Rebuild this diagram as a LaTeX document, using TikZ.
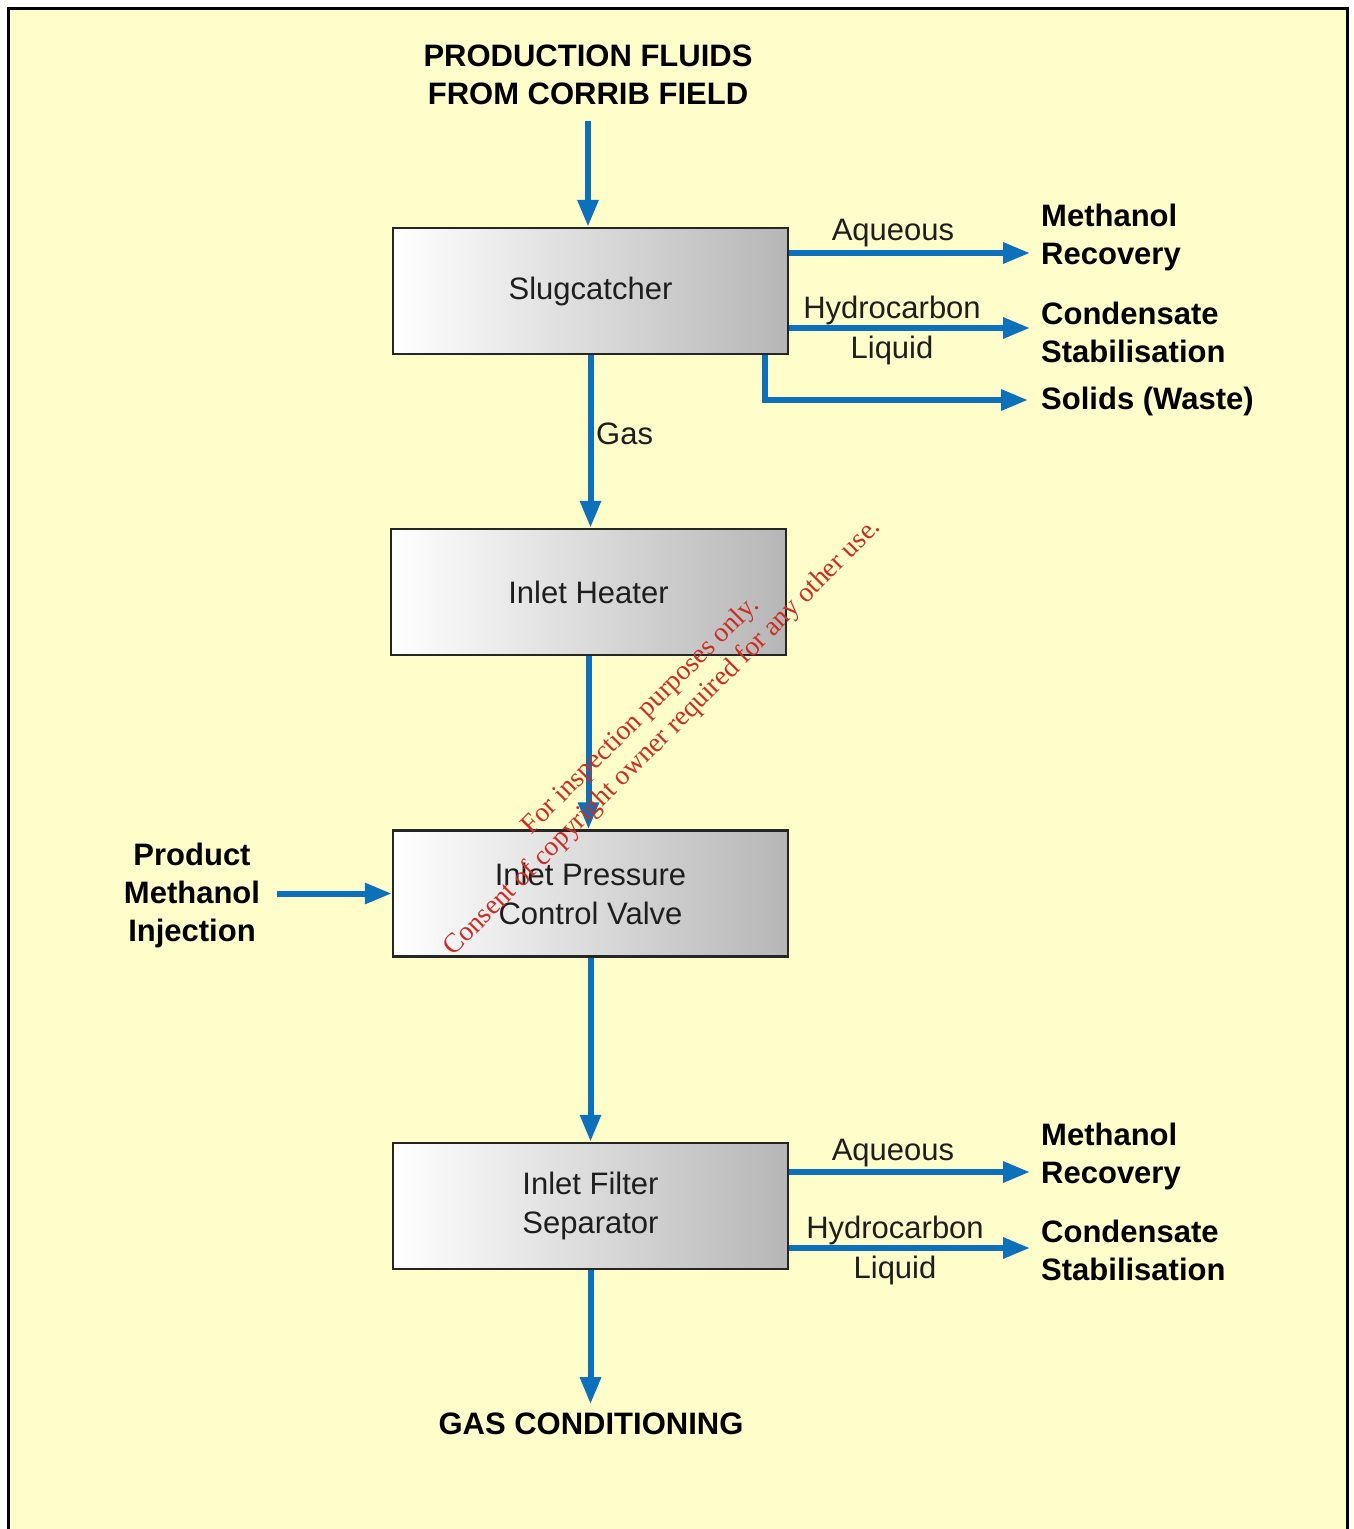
\documentclass[tikz,border=0pt]{standalone}
\usepackage{fontspec}
\setmainfont{Liberation Sans}
\newfontfamily\wmserif{Liberation Serif}
\usetikzlibrary{arrows.meta,calc}
\definecolor{bgyellow}{RGB}{255,253,201}
\definecolor{flowblue}{RGB}{12,112,186}
\definecolor{wmred}{RGB}{204,45,35}
\definecolor{boxgray}{RGB}{182,182,182}
\definecolor{inkgray}{RGB}{30,30,30}
\begin{document}
\begin{tikzpicture}[x=1pt,y=-1pt,
  flow/.style={draw=flowblue, line width=6pt, -{Triangle[length=27pt,width=20pt]}},
  unit/.style={draw=black!85, line width=2.5pt, left color=white, right color=boxgray,
    minimum width=395pt, minimum height=126pt, align=center, text=inkgray,
    font=\fontsize{31}{39}\selectfont, inner sep=0pt},
  lbl/.style={inner sep=0pt, text=inkgray, font=\fontsize{31}{38}\selectfont},
  blbl/.style={inner sep=0pt, font=\fontsize{31}{38}\selectfont\bfseries},
  wmark/.style={rotate=45, text=wmred, font=\wmserif\fontsize{27.5}{31}\selectfont,
    align=center, inner sep=0pt}
]
\useasboundingbox (0,0) rectangle (1353,1529);
\fill[white] (0,0) rectangle (1353,1529);
\fill[bgyellow] (8.5,8.5) rectangle (1347.5,1529);
\draw[line width=3pt] (8.5,1529) -- (8.5,8.5) -- (1347.5,8.5) -- (1347.5,1529);

% process units
\node[unit] (slug) at (590.5,291) {Slugcatcher};
\node[unit] (heat) at (588.5,592) {Inlet Heater};
\node[unit] (valve) at (590.5,893.5) {Inlet Pressure\\Control Valve};
\node[unit] (filt) at (590.5,1206) {Inlet Filter\\Separator};

% texts (multi-line nodes: base = baseline of last line)
\node[blbl, align=center, anchor=base] (src) at (588,104) {PRODUCTION FLUIDS\\FROM CORRIB FIELD};
\node[lbl, anchor=base] (aq1) at (893,240) {Aqueous};
\node[lbl, align=center, anchor=base] (hc1) at (892,358) {Hydrocarbon\\[2pt]Liquid};
\node[blbl, align=left, anchor=base west] (mr1) at (1041,264) {Methanol\\Recovery};
\node[blbl, align=left, anchor=base west] (cs1) at (1041,362) {Condensate\\Stabilisation};
\node[blbl, anchor=base west] (sw) at (1041,409) {Solids (Waste)};
\node[lbl, anchor=base west] (gas) at (596,444) {Gas};
\node[blbl, align=center, anchor=base] (pmi) at (192,941) {Product\\Methanol\\Injection};
\node[lbl, anchor=base] (aq2) at (893,1160) {Aqueous};
\node[lbl, align=center, anchor=base] (hc2) at (895,1278) {Hydrocarbon\\[2pt]Liquid};
\node[blbl, align=left, anchor=base west] (mr2) at (1041,1183) {Methanol\\Recovery};
\node[blbl, align=left, anchor=base west] (cs2) at (1041,1280) {Condensate\\Stabilisation};
\node[blbl, anchor=base] (gc) at (591,1434) {GAS CONDITIONING};

% arrow end points
\coordinate (aq1tip) at (1030,253);
\coordinate (hc1tip) at (1030,328);
\coordinate (swtip) at (1028,400);
\coordinate (aq2tip) at (1030,1172);
\coordinate (hc2tip) at (1030,1248);
\coordinate (gctip) at ($(gc.north)+(0,-8)$);
\coordinate (pmiout) at ([xshift=17pt]pmi.east);

% connectors
\draw[flow] ([yshift=-16pt]src.south) -- (src.south |- slug.north);
\draw[flow] (slug.east |- aq1tip) -- (aq1tip);
\draw[flow] (slug.east |- hc1tip) -- (hc1tip);
\draw[flow] ($(slug.south east)+(-24,0)$) |- (swtip);
\draw[flow] (slug.south) -- (heat.north -| slug.south);
\draw[flow] (heat.south) -- (valve.north -| heat.south);
\draw[flow] (pmiout |- valve.west) -- (valve.west);
\draw[flow] (valve.south) -- (filt.north);
\draw[flow] (filt.east |- aq2tip) -- (aq2tip);
\draw[flow] (filt.east |- hc2tip) -- (hc2tip);
\draw[flow] (filt.south) -- (filt.south |- gctip);

% watermark
\node[wmark] (wm) at (652,727) {For inspection purposes only.\\Consent of copyright owner required for any other use.};
\end{tikzpicture}
\end{document}
